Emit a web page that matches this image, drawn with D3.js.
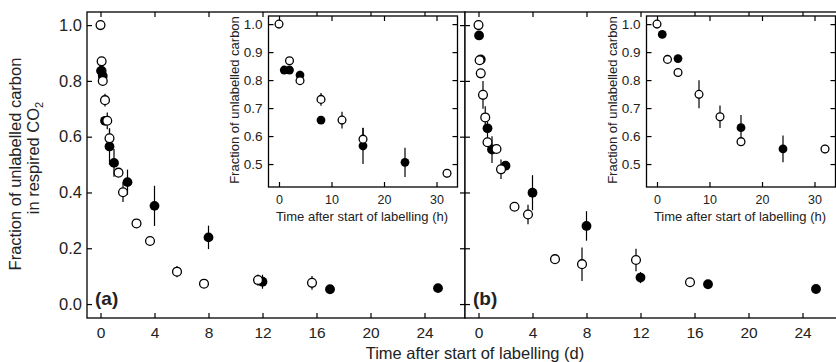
<!DOCTYPE html>
<html>
<head>
<meta charset="utf-8">
<script src="https://cdn.jsdelivr.net/npm/d3@7"></script>
<style>
  body { margin: 0; background: #fff; }
  svg { display: block; font-family: "Liberation Sans", Arial, sans-serif; }
</style>
</head>
<body>
<div id="chart"></div>
<script>
// tick values
var mainTicksX  = [0, 4, 8, 12, 16, 20, 24];
var mainTicksY  = [0, 0.2, 0.4, 0.6, 0.8, 1.0];
var insetTicksX = [0, 10, 20, 30];
var insetTicksY = [0.5, 0.6, 0.7, 0.8, 0.9, 1.0];

// [time, fraction, error] - main panels in days, insets in hours
var aOpen = [
  [0, 1.0, 0], [0.083, 0.870, 0], [0.167, 0.800, 0.01], [0.333, 0.731, 0.023],
  [0.5, 0.657, 0.03], [0.667, 0.594, 0.035], [1.333, 0.471, 0.012], [1.667, 0.401, 0.035],
  [2.667, 0.289, 0], [3.667, 0.226, 0], [5.667, 0.116, 0.02], [7.667, 0.073, 0.01],
  [11.667, 0.086, 0.02], [15.667, 0.076, 0.025]
];
var aFilled = [
  [0.042, 0.836, 0], [0.083, 0.836, 0.01], [0.167, 0.818, 0.015], [0.333, 0.657, 0.01],
  [0.667, 0.565, 0.065], [1.0, 0.506, 0.05], [2, 0.437, 0.045], [4, 0.352, 0.072],
  [8, 0.239, 0.042], [12, 0.080, 0.025], [17, 0.053, 0], [25, 0.057, 0.01]
];
var aInsetOpen = [
  [0, 1.0, 0], [2, 0.869, 0.01], [4, 0.798, 0.015], [8, 0.731, 0.023],
  [12, 0.657, 0.03], [16, 0.589, 0.04], [32, 0.467, 0.015]
];
var aInsetFilled = [
  [1, 0.836, 0.01], [2, 0.836, 0.01], [4, 0.818, 0.015], [8, 0.657, 0.01],
  [16, 0.565, 0.065], [24, 0.506, 0.052]
];

var bOpen = [
  [0, 1.0, 0], [0.083, 0.874, 0], [0.167, 0.827, 0.01], [0.333, 0.750, 0.05],
  [0.5, 0.669, 0.04], [0.667, 0.580, 0.01], [1.333, 0.556, 0.01], [1.667, 0.483, 0.035],
  [2.667, 0.349, 0], [3.667, 0.321, 0.035], [5.667, 0.161, 0], [7.667, 0.143, 0.06],
  [11.667, 0.158, 0.04], [15.667, 0.078, 0.01]
];
var bFilled = [
  [0.042, 0.963, 0], [0.167, 0.877, 0.01], [0.667, 0.630, 0.045], [1.0, 0.554, 0.048],
  [2, 0.496, 0.01], [4, 0.399, 0.063], [8, 0.280, 0.053], [12, 0.095, 0.02],
  [17, 0.071, 0], [25, 0.054, 0.015]
];
var bInsetOpen = [
  [0, 1.0, 0], [2, 0.874, 0.01], [4, 0.827, 0.015], [8, 0.749, 0.05],
  [12, 0.669, 0.04], [16, 0.580, 0.01], [32, 0.554, 0.015]
];
var bInsetFilled = [
  [1, 0.963, 0], [4, 0.877, 0], [16, 0.630, 0.045], [24, 0.554, 0.048]
];

var width  = 836;
var height = 362;
var shift  = 378;   // panel (b) offset

var svg = d3.select("#chart").append("svg").attr("width", width).attr("height", height);

var mainX  = d3.scaleLinear().domain([-1, 27]).range([87, 465]);
var mainY  = d3.scaleLinear().domain([-0.05, 1.047]).range([318, 12]);
var insetX = d3.scaleLinear().domain([-2, 34]).range([268.5, 457.5]);
var insetY = d3.scaleLinear().domain([0.418, 1.029]).range([187, 16]);

function styleAxis(g, fontSize)
{
  g.select(".domain").remove();
  g.selectAll("line").attr("stroke", "#000").attr("stroke-width", 1.2);
  g.selectAll("text").attr("fill", "#222").style("font-size", fontSize + "px");
  g.attr("font-family", null);
}

// frame with inward ticks on all four sides
function drawFrame(g, x, y, tx, ty, fontX, fontY, padX, padY, labelY)
{
  var x0 = x.range()[0], x1 = x.range()[1];
  var y0 = y.range()[0], y1 = y.range()[1];

  g.append("rect")
    .attr("x", x0).attr("y", y1).attr("width", x1 - x0).attr("height", y0 - y1)
    .attr("fill", "#fff").attr("stroke", "none");

  g.append("g").attr("transform", "translate(0," + y0 + ")")
    .call(d3.axisBottom(x).tickValues(tx).tickSizeInner(-5).tickSizeOuter(0).tickPadding(padX).tickFormat(d3.format("d")))
    .call(styleAxis, fontX);

  g.append("g").attr("transform", "translate(0," + y1 + ")")
    .call(d3.axisTop(x).tickValues(tx).tickSizeInner(-5).tickSizeOuter(0).tickFormat(""))
    .call(styleAxis, fontX);

  g.append("g").attr("transform", "translate(" + x0 + ",0)")
    .call(d3.axisLeft(y).tickValues(ty).tickSizeInner(-5).tickSizeOuter(0).tickPadding(padY)
      .tickFormat(labelY ? d3.format(".1f") : ""))
    .call(styleAxis, fontY);

  g.append("g").attr("transform", "translate(" + x1 + ",0)")
    .call(d3.axisRight(y).tickValues(ty).tickSizeInner(-5).tickSizeOuter(0).tickFormat(""))
    .call(styleAxis, fontY);

  g.append("rect")
    .attr("x", x0).attr("y", y1).attr("width", x1 - x0).attr("height", y0 - y1)
    .attr("fill", "none").attr("stroke", "#000").attr("stroke-width", 1.3);
}

function drawPoints(g, x, y, open, filled, r)
{
  var all = filled.concat(open);

  g.selectAll(null).data(all.filter(function (d) { return d[2] > 0; })).join("line")
    .attr("x1", function (d) { return x(d[0]); })
    .attr("x2", function (d) { return x(d[0]); })
    .attr("y1", function (d) { return y(d[1] - d[2]); })
    .attr("y2", function (d) { return y(d[1] + d[2]); })
    .attr("stroke", "#000").attr("stroke-width", 1.2);

  g.selectAll(null).data(filled).join("circle")
    .attr("cx", function (d) { return x(d[0]); })
    .attr("cy", function (d) { return y(d[1]); })
    .attr("r", r + 0.5)
    .attr("fill", "#000");

  g.selectAll(null).data(open).join("circle")
    .attr("cx", function (d) { return x(d[0]); })
    .attr("cy", function (d) { return y(d[1]); })
    .attr("r", r)
    .attr("fill", "#fff").attr("stroke", "#000").attr("stroke-width", 1.3);
}

function drawPanel(offset, open, filled, insetOpen, insetFilled, label, showY)
{
  var g = svg.append("g").attr("transform", "translate(" + offset + ",0)");

  drawFrame(g, mainX, mainY, mainTicksX, mainTicksY, 15.5, 16.5, 9, 5, showY);
  drawPoints(g, mainX, mainY, open, filled, 4.4);

  g.append("text")
    .attr("x", 95).attr("y", 305)
    .attr("font-weight", "bold").attr("font-size", 19)
    .attr("fill", "#222")
    .text(label);

  // inset
  var gi = g.append("g");
  drawFrame(gi, insetX, insetY, insetTicksX, insetTicksY, 12.5, 13.5, 8, 6, true);
  drawPoints(gi, insetX, insetY, insetOpen, insetFilled, 3.9);

  gi.append("text")
    .attr("transform", "translate(239,100) rotate(-90)")
    .attr("text-anchor", "middle").attr("font-size", 13).attr("fill", "#222")
    .text("Fraction of unlabelled carbon");

  gi.append("text")
    .attr("x", 362).attr("y", 221)
    .attr("text-anchor", "middle").attr("font-size", 13).attr("fill", "#222")
    .text("Time after start of labelling (h)");
}

drawPanel(0, aOpen, aFilled, aInsetOpen, aInsetFilled, "(a)", true);
drawPanel(shift, bOpen, bFilled, bInsetOpen, bInsetFilled, "(b)", false);

// shared axis titles
svg.append("text")
  .attr("x", 475).attr("y", 358.5)
  .attr("text-anchor", "middle").attr("font-size", 16.5).attr("fill", "#222")
  .text("Time after start of labelling (d)");

svg.append("text")
  .attr("transform", "translate(20.5,164) rotate(-90)")
  .attr("text-anchor", "middle").attr("font-size", 16.5).attr("fill", "#222")
  .text("Fraction of unlabelled carbon");

var t2 = svg.append("text")
  .attr("transform", "translate(38.5,158) rotate(-90)")
  .attr("text-anchor", "middle").attr("font-size", 16.5).attr("fill", "#222");
t2.append("tspan").text("in respired CO");
t2.append("tspan").attr("font-size", 11).attr("dy", 4).text("2");
</script>
</body>
</html>
